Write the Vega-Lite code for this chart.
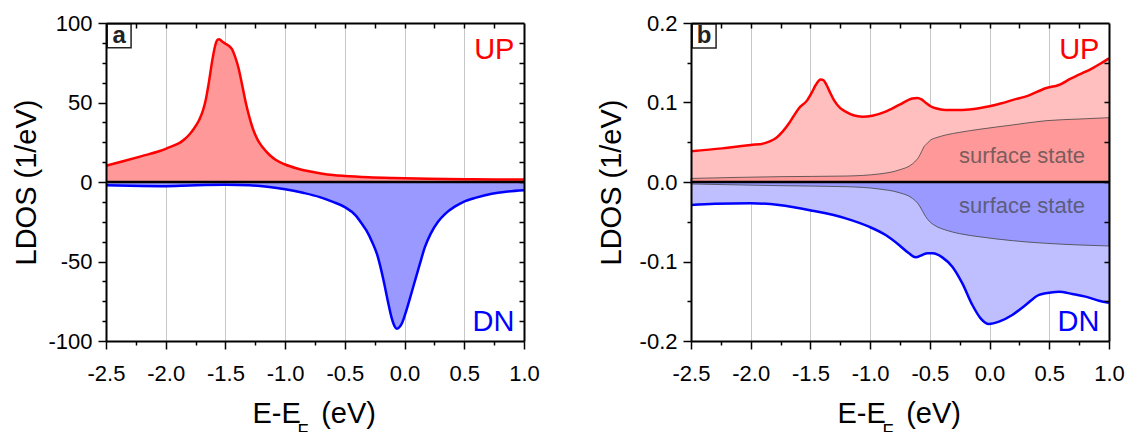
{
  "$schema": "https://vega.github.io/schema/vega-lite/v6.json",
  "autosize": {"type": "pad"},
  "padding": {"left": 12, "top": 12, "right": 5, "bottom": 0},
  "bounds": "flush",
  "spacing": 167,
  "config": {
    "view": {"stroke": null},
    "font": "Liberation Sans",
    "locale": {"number": {"decimal": ".", "thousands": ",", "grouping": [3], "currency": ["$", ""], "minus": "-"}}
  },
  "datasets": {
    "a_up": [
      {"E": -2.5, "v": 10.2}, {"E": -2.35, "v": 13.2}, {"E": -2.2, "v": 16.3}, {"E": -2.05, "v": 19.5},
      {"E": -1.99, "v": 21.2}, {"E": -1.93, "v": 23}, {"E": -1.88, "v": 24.8}, {"E": -1.84, "v": 27},
      {"E": -1.8, "v": 30}, {"E": -1.76, "v": 34}, {"E": -1.72, "v": 39}, {"E": -1.69, "v": 44.5},
      {"E": -1.665, "v": 51.6}, {"E": -1.64, "v": 62}, {"E": -1.61, "v": 76.5}, {"E": -1.585, "v": 86},
      {"E": -1.565, "v": 89.5}, {"E": -1.55, "v": 89.8}, {"E": -1.53, "v": 88.5}, {"E": -1.5, "v": 87},
      {"E": -1.47, "v": 85.5}, {"E": -1.445, "v": 83.5}, {"E": -1.42, "v": 79}, {"E": -1.39, "v": 71.5},
      {"E": -1.36, "v": 61}, {"E": -1.33, "v": 50}, {"E": -1.3, "v": 41}, {"E": -1.27, "v": 33.5},
      {"E": -1.23, "v": 26.5}, {"E": -1.19, "v": 22}, {"E": -1.13, "v": 17}, {"E": -1.08, "v": 14},
      {"E": -1.0, "v": 11}, {"E": -0.9, "v": 8.5}, {"E": -0.8, "v": 6.7}, {"E": -0.7, "v": 5.4},
      {"E": -0.6, "v": 4.4}, {"E": -0.5, "v": 3.8}, {"E": -0.3, "v": 3.0}, {"E": -0.1, "v": 2.5},
      {"E": 0.2, "v": 2.0}, {"E": 0.5, "v": 1.7}, {"E": 0.75, "v": 1.6}, {"E": 1.0, "v": 1.5}
    ],
    "a_dn": [
      {"E": -2.5, "v": -2.1}, {"E": -2.2, "v": -2.5}, {"E": -2.0, "v": -2.6}, {"E": -1.8, "v": -2.2},
      {"E": -1.5, "v": -1.8}, {"E": -1.3, "v": -2.1}, {"E": -1.15, "v": -3}, {"E": -1.0, "v": -4.5},
      {"E": -0.85, "v": -6.8}, {"E": -0.71, "v": -9.5}, {"E": -0.6, "v": -12.5}, {"E": -0.5, "v": -15.8},
      {"E": -0.41, "v": -21}, {"E": -0.36, "v": -26}, {"E": -0.32, "v": -30.5}, {"E": -0.27, "v": -38},
      {"E": -0.23, "v": -45.5}, {"E": -0.2, "v": -54}, {"E": -0.17, "v": -64}, {"E": -0.14, "v": -75},
      {"E": -0.11, "v": -85}, {"E": -0.085, "v": -90.5}, {"E": -0.065, "v": -92.3}, {"E": -0.045, "v": -91.5},
      {"E": -0.02, "v": -88.5}, {"E": 0.01, "v": -82}, {"E": 0.04, "v": -74.5}, {"E": 0.08, "v": -64},
      {"E": 0.128, "v": -51.5}, {"E": 0.17, "v": -41}, {"E": 0.218, "v": -32.6}, {"E": 0.28, "v": -25},
      {"E": 0.34, "v": -20}, {"E": 0.42, "v": -15.5}, {"E": 0.49, "v": -12.6}, {"E": 0.6, "v": -9.8},
      {"E": 0.73, "v": -7.4}, {"E": 0.85, "v": -6.1}, {"E": 1.0, "v": -5.2}
    ],
    "b_up": [
      {"E": -2.5, "v": 0.0388}, {"E": -2.24, "v": 0.0423}, {"E": -2.0, "v": 0.0465}, {"E": -1.889, "v": 0.0486},
      {"E": -1.84, "v": 0.051}, {"E": -1.791, "v": 0.0549}, {"E": -1.735, "v": 0.063}, {"E": -1.679, "v": 0.0738},
      {"E": -1.64, "v": 0.083}, {"E": -1.596, "v": 0.0927}, {"E": -1.526, "v": 0.103}, {"E": -1.49, "v": 0.112},
      {"E": -1.456, "v": 0.122}, {"E": -1.414, "v": 0.129}, {"E": -1.39, "v": 0.128}, {"E": -1.372, "v": 0.124},
      {"E": -1.34, "v": 0.114}, {"E": -1.303, "v": 0.103}, {"E": -1.25, "v": 0.093}, {"E": -1.205, "v": 0.0885},
      {"E": -1.14, "v": 0.084}, {"E": -1.065, "v": 0.0822}, {"E": -0.982, "v": 0.0834}, {"E": -0.87, "v": 0.0885},
      {"E": -0.758, "v": 0.0969}, {"E": -0.647, "v": 0.105}, {"E": -0.605, "v": 0.1057}, {"E": -0.57, "v": 0.104},
      {"E": -0.535, "v": 0.0998}, {"E": -0.49, "v": 0.095}, {"E": -0.451, "v": 0.0927}, {"E": -0.368, "v": 0.0906},
      {"E": -0.228, "v": 0.0906}, {"E": -0.089, "v": 0.0927}, {"E": 0.009, "v": 0.0956}, {"E": 0.1, "v": 0.099},
      {"E": 0.19, "v": 0.103}, {"E": 0.33, "v": 0.109}, {"E": 0.47, "v": 0.118}, {"E": 0.58, "v": 0.122},
      {"E": 0.679, "v": 0.13}, {"E": 0.749, "v": 0.135}, {"E": 0.86, "v": 0.143}, {"E": 0.93, "v": 0.149},
      {"E": 1.0, "v": 0.1556}
    ],
    "b_ssup": [
      {"E": -2.5, "v": 0.0045}, {"E": -1.763, "v": 0.0067}, {"E": -1.205, "v": 0.0075}, {"E": -0.926, "v": 0.0101},
      {"E": -0.758, "v": 0.0151}, {"E": -0.647, "v": 0.0226}, {"E": -0.61, "v": 0.028}, {"E": -0.591, "v": 0.0319},
      {"E": -0.57, "v": 0.038}, {"E": -0.549, "v": 0.0444}, {"E": -0.52, "v": 0.049}, {"E": -0.493, "v": 0.0528},
      {"E": -0.44, "v": 0.056}, {"E": -0.368, "v": 0.0591}, {"E": -0.25, "v": 0.0625}, {"E": -0.089, "v": 0.0662},
      {"E": 0.19, "v": 0.0717}, {"E": 0.47, "v": 0.0771}, {"E": 0.749, "v": 0.0792}, {"E": 1.0, "v": 0.0809}
    ],
    "b_dn": [
      {"E": -2.5, "v": -0.0289}, {"E": -2.3, "v": -0.0275}, {"E": -2.0, "v": -0.0268}, {"E": -1.763, "v": -0.0289},
      {"E": -1.484, "v": -0.0361}, {"E": -1.205, "v": -0.0457}, {"E": -1.01, "v": -0.0562}, {"E": -0.87, "v": -0.0667},
      {"E": -0.758, "v": -0.0792}, {"E": -0.675, "v": -0.0897}, {"E": -0.619, "v": -0.0948}, {"E": -0.563, "v": -0.0918},
      {"E": -0.52, "v": -0.0895}, {"E": -0.479, "v": -0.0897}, {"E": -0.44, "v": -0.091}, {"E": -0.396, "v": -0.0948},
      {"E": -0.312, "v": -0.1065}, {"E": -0.228, "v": -0.1275}, {"E": -0.144, "v": -0.1547}, {"E": -0.075, "v": -0.1715},
      {"E": -0.005, "v": -0.1786}, {"E": 0.079, "v": -0.1757}, {"E": 0.19, "v": -0.1673}, {"E": 0.302, "v": -0.1547},
      {"E": 0.414, "v": -0.1421}, {"E": 0.47, "v": -0.14}, {"E": 0.58, "v": -0.138}, {"E": 0.693, "v": -0.1409},
      {"E": 0.804, "v": -0.1442}, {"E": 0.916, "v": -0.1493}, {"E": 1.0, "v": -0.1518}
    ],
    "b_ssdn": [
      {"E": -2.5, "v": -0.0025}, {"E": -1.763, "v": -0.0046}, {"E": -1.205, "v": -0.0059}, {"E": -0.926, "v": -0.0088},
      {"E": -0.758, "v": -0.0134}, {"E": -0.647, "v": -0.0205}, {"E": -0.591, "v": -0.0289}, {"E": -0.56, "v": -0.037},
      {"E": -0.535, "v": -0.0436}, {"E": -0.5, "v": -0.05}, {"E": -0.465, "v": -0.0541}, {"E": -0.368, "v": -0.0604},
      {"E": -0.25, "v": -0.065}, {"E": -0.089, "v": -0.0688}, {"E": 0.19, "v": -0.0738}, {"E": 0.47, "v": -0.0771},
      {"E": 0.749, "v": -0.0792}, {"E": 1.0, "v": -0.0805}
    ],
    "a_box": [{"E": -2.49, "E2": -2.29, "v": 99.5, "v2": 84.5, "t": "a", "Ec": -2.39, "vc": 91.8}],
    "b_box": [{"E": -2.49, "E2": -2.29, "v": 0.199, "v2": 0.1687, "t": "b", "Ec": -2.39, "vc": 0.1836}],
    "a_lab": [{"E": 0.92, "v": 77.4, "t": "UP"}, {"E": 0.92, "v": -93.7, "t": "DN"}],
    "b_lab": [{"E": 0.92, "v": 0.1547, "t": "UP"}, {"E": 0.92, "v": -0.1874, "t": "DN"}],
    "b_ss": [{"E": 0.272, "v": 0.0235, "t": "surface state"}, {"E": 0.272, "v": -0.0394, "t": "surface state"}],
    "zero": [{"v": 0}]
  },
  "hconcat": [
    {
      "width": 418,
      "height": 318,
      "resolve": {"axis": {"x": "independent", "y": "independent"}},
      "layer": [
        {
          "data": {"name": "a_up"},
          "mark": {"type": "area", "color": "#ff9999", "interpolate": "monotone"},
          "encoding": {
            "x": {"field": "E", "type": "quantitative", "scale": {"domain": [-2.5, 1.0], "nice": false, "zero": false},
              "axis": {"orient": "bottom", "grid": true, "gridColor": "#c8c8c8", "gridWidth": 1, "values": [-2.5, -2, -1.5, -1, -0.5, 0, 0.5, 1], "ticks": false, "labels": false, "domain": false, "title": null, "zindex": 0}},
            "y": {"field": "v", "type": "quantitative", "scale": {"domain": [-100, 100], "nice": false, "zero": false},
              "axis": {"orient": "left", "values": [-100, -50, 0, 50, 100], "grid": false, "tickSize": 8, "tickWidth": 1.5, "tickColor": "black", "domain": true, "domainColor": "black", "domainWidth": 2, "labelFontSize": 22, "labelFont": "Liberation Sans", "labelColor": "black", "labelPadding": 6, "labelFlush": false, "labelOverlap": false, "format": "d", "title": "LDOS (1/eV)", "titleFontSize": 29, "titleFont": "Liberation Sans", "titleFontWeight": "normal", "titleColor": "black", "titleX": -80, "titleY": 159, "titleAngle": -90, "titleAlign": "center", "titleBaseline": "middle", "zindex": 1}}
          }
        },
        {
          "data": {"name": "a_dn"},
          "mark": {"type": "area", "color": "#9999ff", "interpolate": "monotone"},
          "encoding": {
            "x": {"field": "E", "type": "quantitative", "scale": {"domain": [-2.5, 1.0], "nice": false, "zero": false},
              "axis": {"orient": "bottom", "values": [-2.5, -2, -1.5, -1, -0.5, 0, 0.5, 1], "grid": false, "tickSize": 8, "tickWidth": 1.5, "tickColor": "black", "domain": true, "domainColor": "black", "domainWidth": 2, "labelFontSize": 22, "labelFont": "Liberation Sans", "labelColor": "black", "labelPadding": 14, "labelFlush": false, "labelOverlap": false, "format": ".1f", "title": "E-E\u2002\u2009(eV)", "titleFontSize": 29, "titleFont": "Liberation Sans", "titleFontWeight": "normal", "titleColor": "black", "titleX": 146, "titleY": 81, "titleAlign": "left", "titleBaseline": "alphabetic", "zindex": 1}},
            "y": {"field": "v", "type": "quantitative", "scale": {"domain": [-100, 100], "nice": false, "zero": false},
              "axis": {"orient": "left", "values": [-87.5, -75, -62.5, -37.5, -25, -12.5, 12.5, 25, 37.5, 62.5, 75, 87.5], "grid": false, "tickSize": 4, "tickWidth": 1.5, "tickColor": "black", "labels": false, "domain": false, "title": null, "zindex": 1}}
          }
        },
        {
          "data": {"name": "a_up"},
          "mark": {"type": "line", "color": "#ff0000", "strokeWidth": 2.5, "interpolate": "monotone"},
          "encoding": {
            "x": {"field": "E", "type": "quantitative", "scale": {"domain": [-2.5, 1.0], "nice": false, "zero": false},
              "axis": {"orient": "bottom", "values": [-2.25, -1.75, -1.25, -0.75, -0.25, 0.25, 0.75], "grid": false, "tickSize": 4, "tickWidth": 1.5, "tickColor": "black", "labels": false, "domain": false, "title": null, "zindex": 1}},
            "y": {"field": "v", "type": "quantitative", "scale": {"domain": [-100, 100], "nice": false, "zero": false},
              "axis": {"orient": "right", "values": [-87.5, -75, -62.5, -50, -37.5, -25, -12.5, 0, 12.5, 25, 37.5, 50, 62.5, 75, 87.5], "grid": false, "tickSize": -5, "tickWidth": 1.5, "tickColor": "black", "labels": false, "domain": true, "domainColor": "black", "domainWidth": 2, "title": null, "zindex": 1}}
          }
        },
        {
          "data": {"name": "a_dn"},
          "mark": {"type": "line", "color": "#0000ff", "strokeWidth": 2.5, "interpolate": "monotone"},
          "encoding": {
            "x": {"field": "E", "type": "quantitative", "scale": {"domain": [-2.5, 1.0], "nice": false, "zero": false},
              "axis": {"orient": "top", "values": [-2.25, -2, -1.75, -1.5, -1.25, -1, -0.75, -0.5, -0.25, 0, 0.25, 0.5, 0.75], "grid": false, "tickSize": -5, "tickWidth": 1.5, "tickColor": "black", "labels": false, "domain": true, "domainColor": "black", "domainWidth": 2, "title": "F", "titleFontSize": 18, "titleFont": "Liberation Sans", "titleFontWeight": "normal", "titleColor": "black", "titleX": 191, "titleY": 413, "titleAlign": "left", "titleBaseline": "alphabetic", "zindex": 1}},
            "y": {"field": "v", "type": "quantitative", "scale": {"domain": [-100, 100], "nice": false, "zero": false}, "axis": null}
          }
        },
        {
          "data": {"name": "zero"},
          "mark": {"type": "rule", "color": "black", "strokeWidth": 2.5},
          "encoding": {
            "y": {"field": "v", "type": "quantitative", "scale": {"domain": [-100, 100], "nice": false, "zero": false}, "axis": null}
          }
        },
        {
          "data": {"name": "a_box"},
          "mark": {"type": "rect", "fill": "white", "stroke": "#222222", "strokeWidth": 1.5},
          "encoding": {
            "x": {"field": "E", "type": "quantitative", "scale": {"domain": [-2.5, 1.0], "nice": false, "zero": false}, "axis": null},
            "x2": {"field": "E2"},
            "y": {"field": "v", "type": "quantitative", "scale": {"domain": [-100, 100], "nice": false, "zero": false}, "axis": null},
            "y2": {"field": "v2"}
          }
        },
        {
          "data": {"name": "a_box"},
          "mark": {"type": "text", "font": "Liberation Sans", "fontWeight": "bold", "fontSize": 24, "color": "#222222", "align": "center", "baseline": "middle"},
          "encoding": {
            "x": {"field": "Ec", "type": "quantitative", "scale": {"domain": [-2.5, 1.0], "nice": false, "zero": false}, "axis": null},
            "y": {"field": "vc", "type": "quantitative", "scale": {"domain": [-100, 100], "nice": false, "zero": false}, "axis": null},
            "text": {"field": "t"}
          }
        },
        {
          "data": {"name": "a_lab"},
          "mark": {"type": "text", "font": "Liberation Sans", "fontSize": 29, "align": "right", "baseline": "alphabetic"},
          "encoding": {
            "x": {"field": "E", "type": "quantitative", "scale": {"domain": [-2.5, 1.0], "nice": false, "zero": false}, "axis": null},
            "y": {"field": "v", "type": "quantitative", "scale": {"domain": [-100, 100], "nice": false, "zero": false}, "axis": null},
            "text": {"field": "t"},
            "color": {"field": "t", "type": "nominal", "scale": {"domain": ["UP", "DN"], "range": ["#ff0000", "#0000ff"]}, "legend": null}
          }
        }
      ]
    },
    {
      "width": 418,
      "height": 318,
      "resolve": {"axis": {"x": "independent", "y": "independent"}},
      "layer": [
        {
          "data": {"name": "b_up"},
          "mark": {"type": "area", "color": "#ffbfbf", "interpolate": "monotone"},
          "encoding": {
            "x": {"field": "E", "type": "quantitative", "scale": {"domain": [-2.5, 1.0], "nice": false, "zero": false},
              "axis": {"orient": "bottom", "grid": true, "gridColor": "#c8c8c8", "gridWidth": 1, "values": [-2.5, -2, -1.5, -1, -0.5, 0, 0.5, 1], "ticks": false, "labels": false, "domain": false, "title": null, "zindex": 0}},
            "y": {"field": "v", "type": "quantitative", "scale": {"domain": [-0.2, 0.2], "nice": false, "zero": false},
              "axis": {"orient": "left", "values": [-0.2, -0.1, 0, 0.1, 0.2], "grid": false, "tickSize": 8, "tickWidth": 1.5, "tickColor": "black", "domain": true, "domainColor": "black", "domainWidth": 2, "labelFontSize": 22, "labelFont": "Liberation Sans", "labelColor": "black", "labelPadding": 6, "labelFlush": false, "labelOverlap": false, "format": ".1f", "title": "LDOS (1/eV)", "titleFontSize": 29, "titleFont": "Liberation Sans", "titleFontWeight": "normal", "titleColor": "black", "titleX": -80, "titleY": 159, "titleAngle": -90, "titleAlign": "center", "titleBaseline": "middle", "zindex": 1}}
          }
        },
        {
          "data": {"name": "b_dn"},
          "mark": {"type": "area", "color": "#bfbfff", "interpolate": "monotone"},
          "encoding": {
            "x": {"field": "E", "type": "quantitative", "scale": {"domain": [-2.5, 1.0], "nice": false, "zero": false},
              "axis": {"orient": "bottom", "values": [-2.5, -2, -1.5, -1, -0.5, 0, 0.5, 1], "grid": false, "tickSize": 8, "tickWidth": 1.5, "tickColor": "black", "domain": true, "domainColor": "black", "domainWidth": 2, "labelFontSize": 22, "labelFont": "Liberation Sans", "labelColor": "black", "labelPadding": 14, "labelFlush": false, "labelOverlap": false, "format": ".1f", "title": "E-E\u2002\u2009(eV)", "titleFontSize": 29, "titleFont": "Liberation Sans", "titleFontWeight": "normal", "titleColor": "black", "titleX": 146, "titleY": 81, "titleAlign": "left", "titleBaseline": "alphabetic", "zindex": 1}},
            "y": {"field": "v", "type": "quantitative", "scale": {"domain": [-0.2, 0.2], "nice": false, "zero": false},
              "axis": {"orient": "left", "values": [-0.15, -0.05, 0.05, 0.15], "grid": false, "tickSize": 4, "tickWidth": 1.5, "tickColor": "black", "labels": false, "domain": false, "title": null, "zindex": 1}}
          }
        },
        {
          "data": {"name": "b_ssup"},
          "mark": {"type": "area", "color": "#ff9999", "interpolate": "monotone", "stroke": "#444444", "strokeWidth": 0.8},
          "encoding": {
            "x": {"field": "E", "type": "quantitative", "scale": {"domain": [-2.5, 1.0], "nice": false, "zero": false}, "axis": null},
            "y": {"field": "v", "type": "quantitative", "scale": {"domain": [-0.2, 0.2], "nice": false, "zero": false}, "axis": null}
          }
        },
        {
          "data": {"name": "b_ssdn"},
          "mark": {"type": "area", "color": "#9999ff", "interpolate": "monotone", "stroke": "#444444", "strokeWidth": 0.8},
          "encoding": {
            "x": {"field": "E", "type": "quantitative", "scale": {"domain": [-2.5, 1.0], "nice": false, "zero": false}, "axis": null},
            "y": {"field": "v", "type": "quantitative", "scale": {"domain": [-0.2, 0.2], "nice": false, "zero": false}, "axis": null}
          }
        },
        {
          "data": {"name": "b_up"},
          "mark": {"type": "line", "color": "#ff0000", "strokeWidth": 2.5, "interpolate": "monotone"},
          "encoding": {
            "x": {"field": "E", "type": "quantitative", "scale": {"domain": [-2.5, 1.0], "nice": false, "zero": false},
              "axis": {"orient": "bottom", "values": [-2.25, -1.75, -1.25, -0.75, -0.25, 0.25, 0.75], "grid": false, "tickSize": 4, "tickWidth": 1.5, "tickColor": "black", "labels": false, "domain": false, "title": null, "zindex": 1}},
            "y": {"field": "v", "type": "quantitative", "scale": {"domain": [-0.2, 0.2], "nice": false, "zero": false},
              "axis": {"orient": "right", "values": [-0.15, -0.1, -0.05, 0, 0.05, 0.1, 0.15], "grid": false, "tickSize": -5, "tickWidth": 1.5, "tickColor": "black", "labels": false, "domain": true, "domainColor": "black", "domainWidth": 2, "title": null, "zindex": 1}}
          }
        },
        {
          "data": {"name": "b_dn"},
          "mark": {"type": "line", "color": "#0000ff", "strokeWidth": 2.5, "interpolate": "monotone"},
          "encoding": {
            "x": {"field": "E", "type": "quantitative", "scale": {"domain": [-2.5, 1.0], "nice": false, "zero": false},
              "axis": {"orient": "top", "values": [-2.25, -2, -1.75, -1.5, -1.25, -1, -0.75, -0.5, -0.25, 0, 0.25, 0.5, 0.75], "grid": false, "tickSize": -5, "tickWidth": 1.5, "tickColor": "black", "labels": false, "domain": true, "domainColor": "black", "domainWidth": 2, "title": "F", "titleFontSize": 18, "titleFont": "Liberation Sans", "titleFontWeight": "normal", "titleColor": "black", "titleX": 191, "titleY": 413, "titleAlign": "left", "titleBaseline": "alphabetic", "zindex": 1}},
            "y": {"field": "v", "type": "quantitative", "scale": {"domain": [-0.2, 0.2], "nice": false, "zero": false}, "axis": null}
          }
        },
        {
          "data": {"name": "zero"},
          "mark": {"type": "rule", "color": "black", "strokeWidth": 2.5},
          "encoding": {
            "y": {"field": "v", "type": "quantitative", "scale": {"domain": [-0.2, 0.2], "nice": false, "zero": false}, "axis": null}
          }
        },
        {
          "data": {"name": "b_ss"},
          "mark": {"type": "text", "font": "Liberation Sans", "fontSize": 22, "color": "#444444", "opacity": 0.7, "align": "center", "baseline": "alphabetic"},
          "encoding": {
            "x": {"field": "E", "type": "quantitative", "scale": {"domain": [-2.5, 1.0], "nice": false, "zero": false}, "axis": null},
            "y": {"field": "v", "type": "quantitative", "scale": {"domain": [-0.2, 0.2], "nice": false, "zero": false}, "axis": null},
            "text": {"field": "t"}
          }
        },
        {
          "data": {"name": "b_box"},
          "mark": {"type": "rect", "fill": "white", "stroke": "#222222", "strokeWidth": 1.5},
          "encoding": {
            "x": {"field": "E", "type": "quantitative", "scale": {"domain": [-2.5, 1.0], "nice": false, "zero": false}, "axis": null},
            "x2": {"field": "E2"},
            "y": {"field": "v", "type": "quantitative", "scale": {"domain": [-0.2, 0.2], "nice": false, "zero": false}, "axis": null},
            "y2": {"field": "v2"}
          }
        },
        {
          "data": {"name": "b_box"},
          "mark": {"type": "text", "font": "Liberation Sans", "fontWeight": "bold", "fontSize": 24, "color": "#222222", "align": "center", "baseline": "middle"},
          "encoding": {
            "x": {"field": "Ec", "type": "quantitative", "scale": {"domain": [-2.5, 1.0], "nice": false, "zero": false}, "axis": null},
            "y": {"field": "vc", "type": "quantitative", "scale": {"domain": [-0.2, 0.2], "nice": false, "zero": false}, "axis": null},
            "text": {"field": "t"}
          }
        },
        {
          "data": {"name": "b_lab"},
          "mark": {"type": "text", "font": "Liberation Sans", "fontSize": 29, "align": "right", "baseline": "alphabetic"},
          "encoding": {
            "x": {"field": "E", "type": "quantitative", "scale": {"domain": [-2.5, 1.0], "nice": false, "zero": false}, "axis": null},
            "y": {"field": "v", "type": "quantitative", "scale": {"domain": [-0.2, 0.2], "nice": false, "zero": false}, "axis": null},
            "text": {"field": "t"},
            "color": {"field": "t", "type": "nominal", "scale": {"domain": ["UP", "DN"], "range": ["#ff0000", "#0000ff"]}, "legend": null}
          }
        }
      ]
    }
  ]
}
